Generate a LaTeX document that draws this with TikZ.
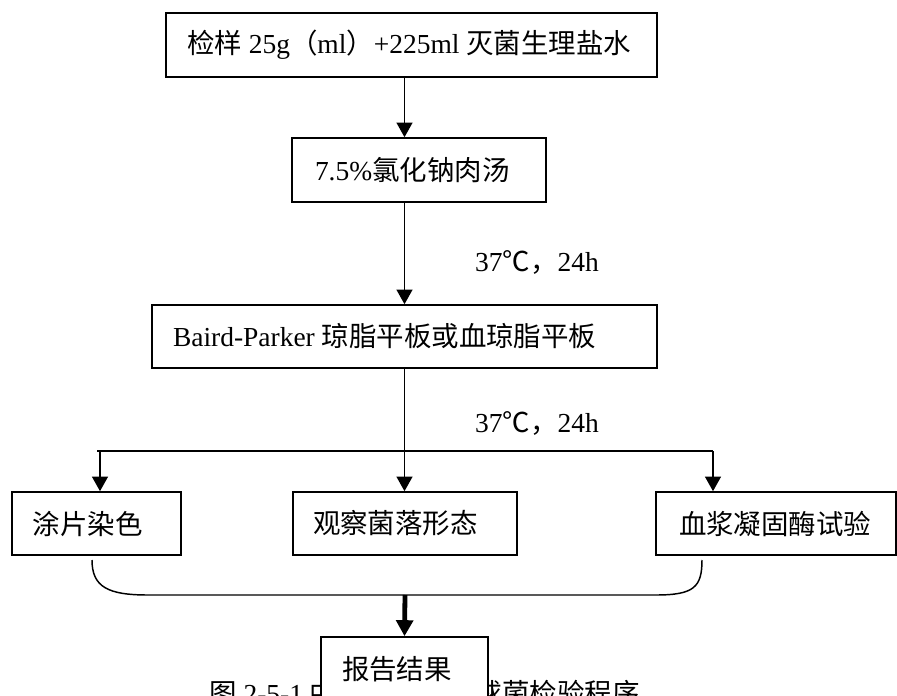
\documentclass[tikz,border=0pt]{standalone}
\usepackage{fontspec}
\setmainfont{Liberation Serif}
\newfontfamily\cjk{Noto Sans CJK SC}
\usetikzlibrary{arrows.meta,calc}
\newdimen\pxu \pxu=0.75pt
\newcommand{\zh}[1]{{\cjk #1}}
\newcommand{\btext}[3]{\makebox[#1\pxu][l]{\hspace*{#2\pxu}#3}}
\tikzset{
  box/.style={draw, line width=1.2pt, fill=white, inner sep=0pt, minimum height=64\pxu},
  txt/.style={inner sep=0pt},
  arr/.style={line width=1.1pt, -{Triangle[length=11pt,width=12pt]}},
  thickarr/.style={line width=3.6pt, -{Triangle[length=12pt,width=12.5pt]}},
  thin/.style={line width=1.1pt},
}
\begin{document}
\begin{tikzpicture}[x=0.75pt,y=-0.75pt,font=\fontsize{20.6pt}{24pt}\selectfont]
\useasboundingbox (0,0) rectangle (897,696);
\clip (0,0) rectangle (897,696);
\fill[white] (0,0) rectangle (897,696);

% boxes
\node[box] (n1) at (411.5,45) {\btext{491}{21}{\zh{检样} 25g\zh{（}ml\zh{）}+225ml \zh{灭菌生理盐水}}};
\node[box] (n2) at (419,170) {\btext{254}{23}{7.5\%\zh{氯化钠肉汤}}};
\node[box, minimum height=63\pxu] (n3) at (404.5,336.5) {\btext{505}{21}{Baird-Parker \zh{琼脂平板或血琼脂平板}}};
\node[box, minimum height=63\pxu] (n4) at (96.5,523.5) {\btext{169}{21}{\zh{涂片染色}}};
\node[box, minimum height=63\pxu] (n5) at (405,523.5) {\btext{224}{20}{\zh{观察菌落形态}}};
\node[box, minimum height=63\pxu] (n6) at (776,523.5) {\btext{240}{23}{\zh{血浆凝固酶试验}}};

% labels
\node[txt] (l1) at (537,262) {37\zh{℃，}24h};
\node[txt] (l2) at (537,423) {37\zh{℃，}24h};

% connectors
\draw[arr] (n1.south -| n3.center) -- (n2.north -| n3.center);
\draw[arr] (n2.south -| n3.center) -- (n3.north);

\coordinate (bl) at (97,451);
\coordinate (br) at (713,451);
\coordinate (a1) at (100,451);
\draw[thin] (n3.south) -- (n3.south |- bl);
\draw[thin] (bl) -- (br);
\draw[arr] (a1) -- (a1 |- n4.north);
\draw[arr] (n3.center |- bl) -- (n3.center |- n5.north);
\draw[arr] (br) -- (br |- n6.north);

% brace
\coordinate (c1) at (92,560);
\coordinate (c2) at (702,560);
\coordinate (m) at (405,595);
\draw[thin] (c1) .. controls (92,587) and (108,595) .. (148,595) -- (656,595) .. controls (694,595) and (702,587) .. (c2);

% caption (partly hidden)
\node[txt, anchor=west] (cap) at (209,693) {\zh{图} 2-5-1 \zh{中金黄色葡萄球菌检验程序}};

% report box
\node[box, minimum height=64\pxu] (n7) at (404.5,669) {\btext{167}{21}{\zh{报告结果}}};
\draw[thickarr] (m) -- (n7.north);
\end{tikzpicture}
\end{document}
